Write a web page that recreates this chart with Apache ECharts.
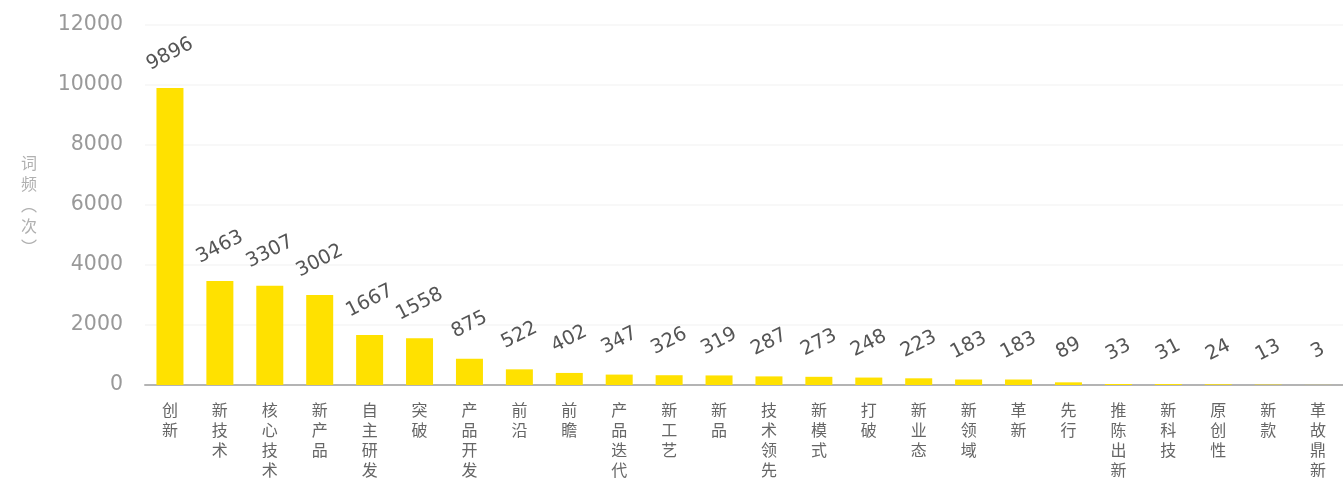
<!DOCTYPE html>
<html>
<head>
<meta charset="utf-8">
<script src="https://cdn.jsdelivr.net/npm/echarts@6/dist/echarts.min.js"></script>
<style>
  html, body { margin: 0; padding: 0; background: #ffffff; }
  #chart { width: 1343px; height: 492px; }
</style>
</head>
<body>
<div id="chart"></div>
<script>
// Keyword frequency counts
const categories = ['创新', '新技术', '核心技术', '新产品', '自主研发', '突破', '产品开发', '前沿', '前瞻', '产品迭代',
  '新工艺', '新品', '技术领先', '新模式', '打破', '新业态', '新领域', '革新', '先行', '推陈出新',
  '新科技', '原创性', '新款', '革故鼎新'];
const counts = [9896, 3463, 3307, 3002, 1667, 1558, 875, 522, 402, 347,
  326, 319, 287, 273, 248, 223, 183, 183, 89, 33,
  31, 24, 13, 3];
const yAxisName = '词频︵次︶';

const chart = echarts.init(document.getElementById('chart'));
chart.setOption({
  backgroundColor: '#ffffff',
  animation: false,
  grid: { left: 145, right: -7, top: 25, bottom: 107 },
  xAxis: {
    type: 'category',
    data: categories,
    axisLine: { lineStyle: { color: '#b4b4b4', width: 2 } },
    axisTick: { show: false },
    axisLabel: {
      interval: 0,
      margin: 15,
      color: '#666666',
      fontSize: 16,
      lineHeight: 20,
      fontFamily: 'Noto Sans CJK SC',
      verticalAlign: 'top',
      formatter: v => v.split('').join('\n')
    }
  },
  yAxis: {
    type: 'value',
    min: 0,
    max: 12000,
    interval: 2000,
    name: yAxisName.split('').join('\n'),
    nameLocation: 'middle',
    nameRotate: 0,
    nameGap: 108,
    nameTextStyle: {
      color: '#b0b0b0',
      fontSize: 16,
      lineHeight: 21,
      fontFamily: 'Noto Sans CJK SC'
    },
    axisLine: { show: false },
    axisTick: { show: false },
    splitLine: { lineStyle: { color: '#f8f8f8', width: 2 } },
    axisLabel: {
      color: '#999999',
      fontSize: 20.5,
      margin: 22,
      fontFamily: 'DejaVu Sans',
      formatter: v => String(v)
    }
  },
  series: [{
    type: 'bar',
    data: counts,
    barWidth: 27,
    itemStyle: { color: '#ffe100' },
    label: {
      show: true,
      position: 'top',
      distance: 34,
      rotate: 27,
      align: 'center',
      verticalAlign: 'middle',
      color: '#555555',
      fontSize: 19.5,
      fontFamily: 'DejaVu Sans'
    }
  }]
});
</script>
</body>
</html>
